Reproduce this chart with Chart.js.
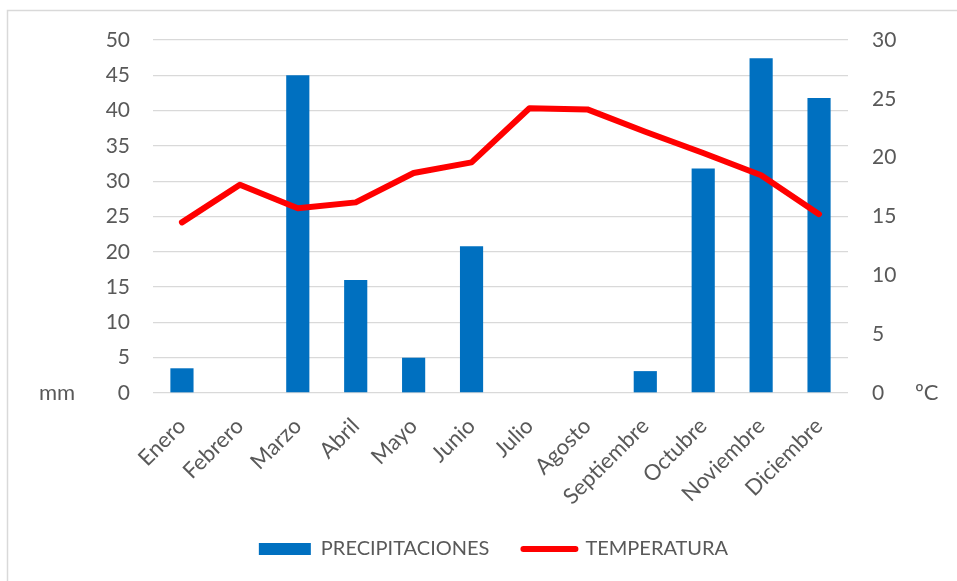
<!DOCTYPE html>
<html>
<head>
<meta charset="utf-8">
<script src="https://cdn.jsdelivr.net/npm/chart.js@4.4.1/dist/chart.umd.min.js"></script>
<style>
  html, body { margin: 0; padding: 0; background: #ffffff; overflow: hidden; }
  #c { display: block; }
</style>
</head>
<body>
<canvas id="c" width="957" height="581"></canvas>
<script>
const months = ['Enero','Febrero','Marzo','Abril','Mayo','Junio','Julio','Agosto','Septiembre','Octubre','Noviembre','Diciembre'];
const precipitaciones = [3.5, 0, 45, 16, 5, 20.8, 0, 0, 3.1, 31.8, 47.4, 41.8];
const temperatura = [14.5, 17.7, 15.7, 16.2, 18.7, 19.6, 24.2, 24.1, 22.2, 20.4, 18.5, 15.2];
const leftTicks = [0, 5, 10, 15, 20, 25, 30, 35, 40, 45, 50];
const rightTicks = [0, 5, 10, 15, 20, 25, 30];
const leftUnit = 'mm';
const rightUnit = 'ºC';
const seriesNames = ['PRECIPITACIONES', 'TEMPERATURA'];

const FONT = 'Lato';
const TXT = '#595959';
const BLUE = '#0070C0';
const RED = '#FF0000';
const GRID = '#D9D9D9';

const framePlugin = {
  id: 'frame',
  beforeDraw(chart) {
    const ctx = chart.ctx;
    ctx.save();
    ctx.strokeStyle = GRID;
    ctx.lineWidth = 1.5;
    ctx.beginPath();
    ctx.moveTo(7.5, chart.height);
    ctx.lineTo(7.5, 10.5);
    ctx.lineTo(chart.width, 10.5);
    ctx.stroke();
    ctx.restore();
  }
};

const unitsPlugin = {
  id: 'units',
  afterDraw(chart) {
    const ctx = chart.ctx;
    const y = chart.scales.y.getPixelForValue(0);
    ctx.save();
    ctx.fillStyle = TXT;
    ctx.font = '22px ' + FONT;
    ctx.textBaseline = 'middle';
    ctx.textAlign = 'left';
    ctx.fillText(leftUnit, 39, y);
    ctx.fillText(rightUnit, 915, y);
    ctx.restore();
  }
};

new Chart(document.getElementById('c'), {
  type: 'bar',
  data: {
    labels: months,
    datasets: [
      {
        type: 'bar',
        label: seriesNames[0],
        data: precipitaciones,
        backgroundColor: BLUE,
        borderWidth: 0,
        yAxisID: 'y',
        categoryPercentage: 1.0,
        barPercentage: 0.4,
        order: 2
      },
      {
        type: 'line',
        label: seriesNames[1],
        data: temperatura,
        borderColor: RED,
        backgroundColor: RED,
        borderWidth: 6,
        pointRadius: 0,
        pointHoverRadius: 0,
        tension: 0,
        borderJoinStyle: 'round',
        borderCapStyle: 'round',
        yAxisID: 'y1',
        order: 1
      }
    ]
  },
  plugins: [framePlugin, unitsPlugin],
  options: {
    responsive: false,
    animation: false,
    devicePixelRatio: 1,
    layout: { padding: { left: 30, right: 0, top: 40, bottom: 12 } },
    plugins: {
      tooltip: { enabled: false },
      legend: {
        position: 'bottom',
        align: 'center',
        labels: {
          usePointStyle: true,
          pointStyleWidth: 52,
          boxHeight: 12,
          padding: 34,
          color: TXT,
          font: { family: FONT, size: 20 },
          generateLabels(chart) {
            const ds = chart.data.datasets;
            return [
              { text: ds[0].label, fillStyle: BLUE, strokeStyle: BLUE, lineWidth: 0, pointStyle: 'rect', datasetIndex: 0, fontColor: TXT },
              { text: ds[1].label, fillStyle: RED, strokeStyle: RED, lineWidth: 6, lineCap: 'round', pointStyle: 'line', datasetIndex: 1, fontColor: TXT }
            ];
          }
        }
      }
    },
    scales: {
      x: {
        grid: { display: false, drawTicks: false },
        border: { display: false },
        ticks: {
          color: TXT,
          font: { family: FONT, size: 22 },
          minRotation: 45,
          maxRotation: 45,
          padding: 20,
          autoSkip: false
        },
        afterFit(scale) { scale.height = 112; }
      },
      y: {
        position: 'left',
        min: 0,
        max: 50,
        afterBuildTicks(scale) { scale.ticks = leftTicks.map(v => ({ value: v })); },
        grid: { color: GRID, lineWidth: 1.3, drawTicks: false },
        border: { display: false },
        ticks: {
          color: TXT,
          font: { family: FONT, size: 21 },
          padding: 23
        },
        afterFit(scale) { scale.width = 123; }
      },
      y1: {
        position: 'right',
        min: 0,
        max: 30,
        afterBuildTicks(scale) { scale.ticks = rightTicks.map(v => ({ value: v })); },
        grid: { display: false, drawTicks: false },
        border: { display: false },
        ticks: {
          color: TXT,
          font: { family: FONT, size: 21 },
          padding: 24
        },
        afterFit(scale) { scale.width = 109; }
      }
    }
  }
});
</script>
</body>
</html>
